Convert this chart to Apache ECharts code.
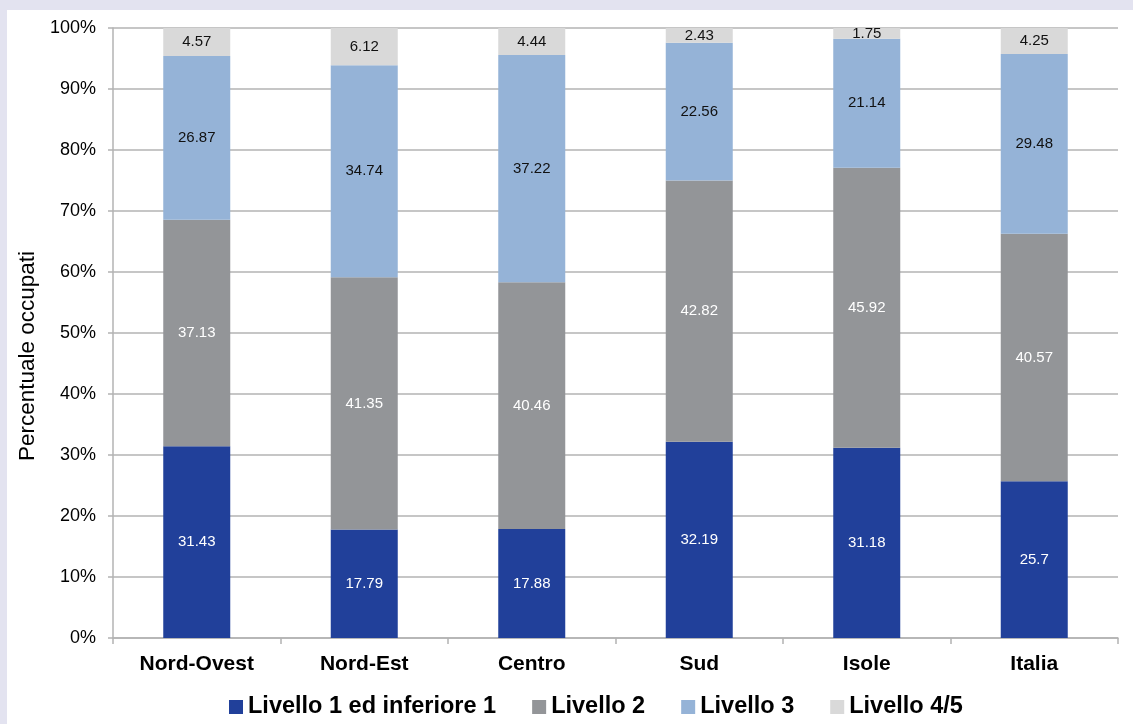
<!DOCTYPE html>
<html><head><meta charset="utf-8">
<script src="https://cdn.jsdelivr.net/npm/echarts@6/dist/echarts.min.js"></script>
<style>
html,body{margin:0;padding:0;background:#e3e3f0;}
#wrap{position:absolute;left:7px;top:10px;width:1126px;height:714px;background:#fff;}
#c{width:1126px;height:714px;}
</style></head><body>
<div id="wrap"><div id="c"></div></div>
<script>
const categories = ['Nord-Ovest','Nord-Est','Centro','Sud','Isole','Italia'];
const seriesNames = ['Livello 1 ed inferiore 1','Livello 2','Livello 3','Livello 4/5'];
const livello1 = [31.43, 17.79, 17.88, 32.19, 31.18, 25.7];
const livello2 = [37.13, 41.35, 40.46, 42.82, 45.92, 40.57];
const livello3 = [26.87, 34.74, 37.22, 22.56, 21.14, 29.48];
const livello45 = [4.57, 6.12, 4.44, 2.43, 1.75, 4.25];

const colors = ['#21409a','#939598','#95b3d7','#d9d9d9'];
const labelColors = ['#ffffff','#ffffff','#111111','#111111'];
const font = '"Liberation Sans", Arial, Helvetica, sans-serif';
const data = [livello1, livello2, livello3, livello45];

const chart = echarts.init(document.getElementById('c'));
chart.setOption({
  animation:false,
  textStyle:{fontFamily:font},
  grid:{left:106, right:15, top:18, bottom:86, containLabel:false},
  legend:{
    left:217, top:680, itemWidth:14, itemHeight:14, itemGap:36,
    icon:'rect',
    textStyle:{fontFamily:font, fontSize:23.5, fontWeight:'bold', color:'#000'},
    data:seriesNames
  },
  xAxis:{
    type:'category', data:categories,
    axisLine:{lineStyle:{color:'#b3b3b3', width:1.5}},
    axisTick:{show:true, length:6, lineStyle:{color:'#b3b3b3', width:1.5}},
    axisLabel:{fontFamily:font, fontSize:21, fontWeight:'bold', color:'#000', margin:16}
  },
  yAxis:{
    type:'value', min:0, max:100, interval:10,
    name:'Percentuale occupati', nameLocation:'middle', nameGap:72, nameRotate:90,
    nameTextStyle:{fontFamily:font, fontSize:22.5, color:'#000', padding:[0,46,0,0]},
    axisLine:{show:true, lineStyle:{color:'#b3b3b3', width:1.5}},
    axisTick:{show:true, length:5, lineStyle:{color:'#b3b3b3', width:1.5}},
    axisLabel:{formatter:'{value}%', fontFamily:font, fontSize:18, color:'#000', margin:17},
    splitLine:{lineStyle:{color:'#b3b3b3', width:1.5}}
  },
  series: seriesNames.map((n,i)=>({
    name:n, type:'bar', stack:'tot', barWidth:'40%',
    data:data[i],
    itemStyle:{color:colors[i]},
    label:{show:true, position:'inside', color:labelColors[i], fontFamily:font, fontSize:15,
      formatter:p=>String(p.value)}
  }))
});
</script>
</body></html>
